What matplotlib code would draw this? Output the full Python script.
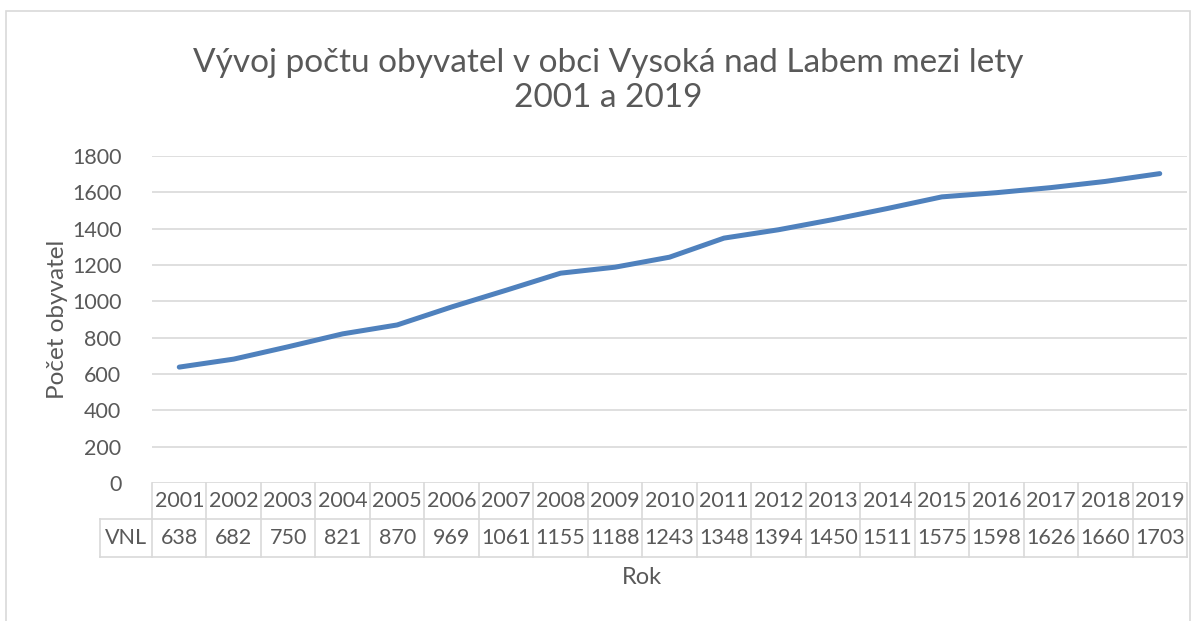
import matplotlib.pyplot as plt
from matplotlib.patches import Rectangle

# -----------------------------
# DATA
# -----------------------------
years = [2001, 2002, 2003, 2004, 2005, 2006, 2007, 2008, 2009, 2010,
         2011, 2012, 2013, 2014, 2015, 2016, 2017, 2018, 2019]
vnl = [638, 682, 750, 821, 870, 969, 1061, 1155, 1188, 1243,
       1348, 1394, 1450, 1511, 1575, 1598, 1626, 1660, 1703]
row_label = "VNL"

plt.rcParams['font.family'] = ['Lato', 'DejaVu Sans']
txt = "#595959"
grid = "#d9d9d9"
fs = 15.5

fig = plt.figure(figsize=(11.98, 6.21), dpi=100)
ax = fig.add_axes([0.1269, 0.2222, 0.8639, 0.5266])

# outer chart frame
fig.patches.append(Rectangle((6 / 1198, -0.01), 1184 / 1198, 1 - 11 / 621 + 0.01,
                             transform=fig.transFigure, fill=False,
                             edgecolor=grid, linewidth=1.2))

x = [i + 0.5 for i in range(len(years))]
ax.plot(x, vnl, color="#4f81bd", linewidth=3.6, solid_capstyle="round")

ax.set_xlim(0, len(years))
ax.set_ylim(0, 1800)
ax.set_yticks(range(0, 1801, 200))
ax.set_xticks([])
ax.grid(axis="y", color=grid, linewidth=1.2)
ax.set_axisbelow(True)
for s in ax.spines.values():
    s.set_visible(False)
ax.tick_params(axis="y", length=0, pad=22, labelsize=fs, labelcolor=txt)

fig.text(0.5075, 0.871, "Vývoj počtu obyvatel v obci Vysoká nad Labem mezi lety\n2001 a 2019",
         ha="center", va="center", fontsize=24, color=txt, linespacing=1.2)
ax.set_ylabel("Počet obyvatel", fontsize=17.5, color=txt, labelpad=3)

# -----------------------------
# DATA TABLE UNDER THE AXIS
# -----------------------------
tr = ax.get_xaxis_transform()
r1, r2 = -0.110, -0.226
label_left = -0.955
for i, (yr, v) in enumerate(zip(years, vnl)):
    ax.text(i + 0.5, r1 / 2, str(yr), transform=tr, ha="center", va="center",
            fontsize=fs, color=txt, clip_on=False)
    ax.text(i + 0.5, (r1 + r2) / 2, str(v), transform=tr, ha="center", va="center",
            fontsize=fs, color=txt, clip_on=False)
ax.text(label_left / 2, (r1 + r2) / 2, row_label, transform=tr, ha="center",
        va="center", fontsize=fs, color=txt, clip_on=False)

for i in range(len(years) + 1):
    ax.plot([i, i], [0, r2], transform=tr, color=grid, linewidth=1.2, clip_on=False)
ax.plot([label_left, label_left], [r1, r2], transform=tr, color=grid,
        linewidth=1.2, clip_on=False)
for yy in (r1, r2):
    ax.plot([label_left, len(years)], [yy, yy], transform=tr, color=grid,
            linewidth=1.2, clip_on=False)

ax.text(len(years) / 2 - 0.5, -0.29, "Rok", transform=tr, ha="center", va="center",
        fontsize=17, color=txt, clip_on=False)

fig.savefig("out.png", dpi=100)
